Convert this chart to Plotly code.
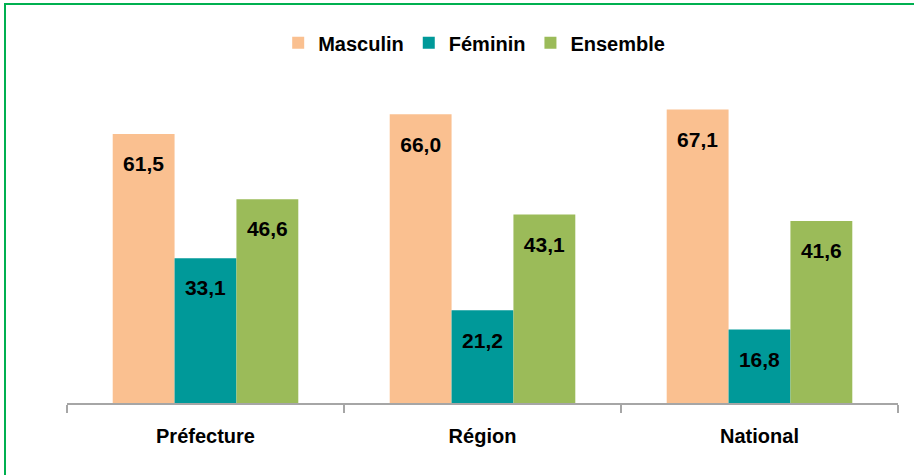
import plotly.graph_objects as go

categories = ["Préfecture", "Région", "National"]
masculin = [61.5, 66.0, 67.1]
feminin = [33.1, 21.2, 16.8]
ensemble = [46.6, 43.1, 41.6]

series = [
    ("Masculin", masculin, "#FAC090"),
    ("Féminin", feminin, "#009999"),
    ("Ensemble", ensemble, "#9BBB59"),
]

font_family = "Liberation Sans, Arial, sans-serif"

figure = go.Figure()
for name, values, color in series:
    figure.add_trace(
        go.Bar(
            x=categories,
            y=values,
            name=name,
            marker_color=color,
            marker_line_width=0,
            text=values,
            texttemplate="<span style='font-size:8px'> </span><br>%{y:.1f}",
            textposition="inside",
            insidetextanchor="end",
            textangle=0,
            textfont=dict(family=font_family, size=21, color="black", weight="bold"),
            cliponaxis=False,
        )
    )

figure.update_layout(
    width=914,
    height=475,
    barmode="group",
    bargap=0.33,
    bargroupgap=0,
    separators=", ",
    plot_bgcolor="white",
    paper_bgcolor="white",
    margin=dict(l=67, r=16, t=60, b=72),
    font=dict(family=font_family, color="black"),
    uniformtext=dict(minsize=8, mode="show"),
    legend=dict(
        orientation="h",
        x=0.49,
        xanchor="center",
        y=1.05,
        yanchor="middle",
        font=dict(size=20, weight="bold"),
        itemwidth=30,
        traceorder="normal",
    ),
    xaxis=dict(
        showline=True,
        linecolor="#A6A6A6",
        linewidth=2,
        ticks="outside",
        tickson="boundaries",
        ticklen=8,
        tickwidth=2,
        tickcolor="#A6A6A6",
        tickfont=dict(size=20, weight="bold"),
        ticklabelstandoff=14,
        showgrid=False,
    ),
    yaxis=dict(range=[0, 78.4], visible=False, showgrid=False),
    shapes=[
        dict(
            type="rect",
            xref="paper",
            yref="paper",
            x0=-62 / 831,
            x1=1.1,
            y0=-0.3,
            y1=399 / 343,
            line=dict(color="#00B050", width=2),
            fillcolor="rgba(0,0,0,0)",
            layer="below",
        )
    ],
)

figure.write_html(
    "out.html",
    config={"displayModeBar": False},
    post_script="document.body.style.margin='0';",
)
